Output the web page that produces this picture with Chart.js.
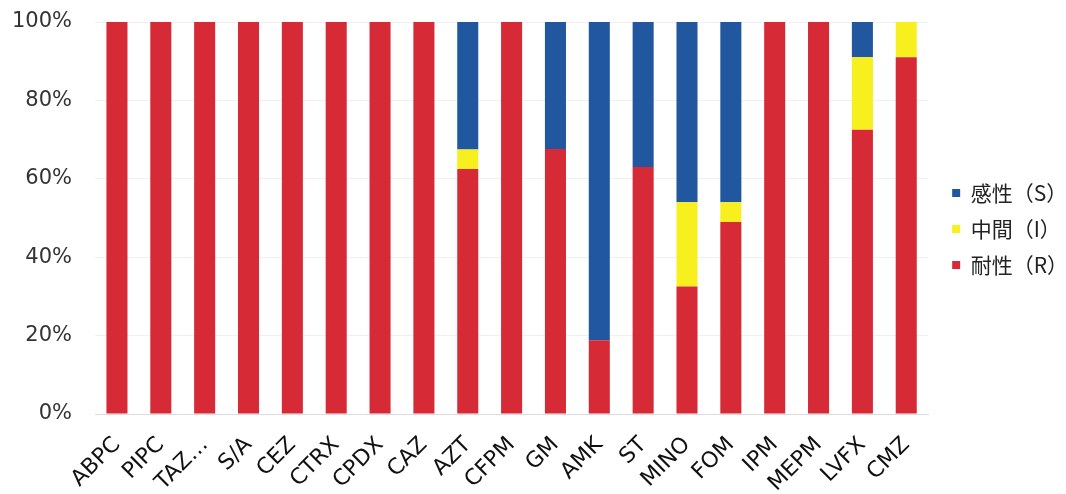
<!DOCTYPE html>
<html>
<head>
<meta charset="utf-8">
<script src="https://cdn.jsdelivr.net/npm/chart.js@4"></script>
<style>
  html, body { margin: 0; padding: 0; background: #fff; }
  #wrap { width: 1066px; height: 494px; }
</style>
</head>
<body>
<div id="wrap"><canvas id="sensChart"></canvas></div>
<script>
// drug abbreviations along the x axis
const drugs = ['ABPC', 'PIPC', 'TAZ…', 'S/A', 'CEZ', 'CTRX', 'CPDX', 'CAZ', 'AZT', 'CFPM',
               'GM', 'AMK', 'ST', 'MINO', 'FOM', 'IPM', 'MEPM', 'LVFX', 'CMZ'];

// share of isolates (%) per category
const resistant    = [100, 100, 100, 100, 100, 100, 100, 100, 62.5, 100, 67.6, 18.8, 63, 32.5, 49, 100, 100, 72.5, 91];
const intermediate = [0, 0, 0, 0, 0, 0, 0, 0, 5, 0, 0, 0, 0, 21.5, 5, 0, 0, 18.5, 9];
const susceptible  = [0, 0, 0, 0, 0, 0, 0, 0, 32.5, 0, 32.4, 81.2, 37, 46, 46, 0, 0, 9, 0];

const yTicks = [0, 20, 40, 60, 80, 100];

// nudge the legend column: a bit right and above the vertical middle
const legendShift = {
    id: 'legendShift',
    afterLayout(chart) {
        const lg = chart.legend;
        if (!lg) return;
        lg.left += 9;
        lg.bottom -= 58;
    }
};

const ctx = document.getElementById('sensChart').getContext('2d');
new Chart(ctx, {
    type: 'bar',
    data: {
        labels: drugs,
        datasets: [
            { label: '耐性（R）', data: resistant, backgroundColor: '#d62a36' },
            { label: '中間（I）', data: intermediate, backgroundColor: '#f8f01e' },
            { label: '感性（S）', data: susceptible, backgroundColor: '#21579f' }
        ]
    },
    options: {
        responsive: true,
        maintainAspectRatio: false,
        animation: false,
        layout: { padding: { left: 12, top: 22, right: -3, bottom: 0 } },
        datasets: {
            bar: { barPercentage: 0.48, categoryPercentage: 1 }
        },
        plugins: {
            tooltip: { enabled: false },
            legend: {
                position: 'right',
                reverse: true,
                labels: {
                    boxWidth: 8,
                    boxHeight: 8,
                    padding: 15,
                    color: '#222',
                    font: { family: '"Noto Sans CJK JP", sans-serif', size: 21 }
                }
            }
        },
        scales: {
            x: {
                stacked: true,
                grid: { display: false },
                border: { color: '#dcdcdc' },
                // long rotated labels may run past the bottom edge
                afterFit: s => { s.paddingLeft = 0; s.paddingRight = 0; s.height = 80; },
                ticks: {
                    minRotation: 45,
                    maxRotation: 45,
                    autoSkip: false,
                    padding: 10,
                    color: '#111',
                    font: { family: '"DejaVu Sans", sans-serif', size: 22 }
                }
            },
            y: {
                stacked: true,
                min: 0,
                max: 100,
                afterBuildTicks: axis => { axis.ticks = yTicks.map(v => ({ value: v })); },
                // invisible tick marks keep the gap between labels and bars
                grid: { color: '#f0f0f0', drawTicks: true, tickLength: 23, tickColor: 'rgba(0,0,0,0)' },
                border: { display: false },
                ticks: {
                    padding: 0,
                    color: '#333',
                    font: { family: '"DejaVu Sans", sans-serif', size: 21 },
                    callback: v => v + '%'
                }
            }
        }
    },
    plugins: [legendShift]
});
</script>
</body>
</html>
